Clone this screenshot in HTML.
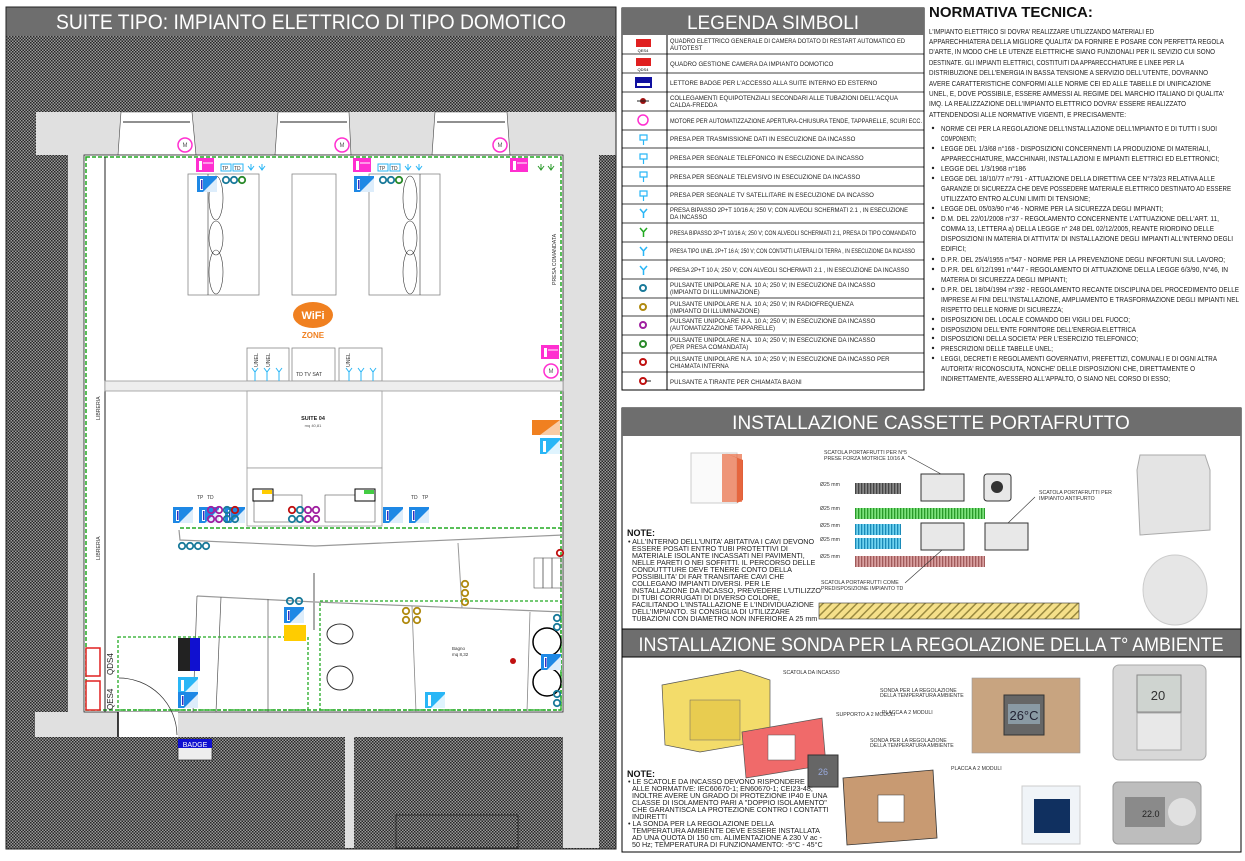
<!DOCTYPE html>
<html><head><meta charset="utf-8"><style>
html,body{margin:0;padding:0;background:#fff;}
svg{display:block;font-family:"Liberation Sans",sans-serif;}
.t{font-size:6.1px;fill:#222;}
.n{font-size:7.2px;fill:#222;}
.s{font-size:5.2px;fill:#333;}
</style></head><body>
<svg width="1245" height="861" viewBox="0 0 1245 861" xmlns="http://www.w3.org/2000/svg">
<defs>
<pattern id="h" width="3" height="3" patternUnits="userSpaceOnUse"><rect width="3" height="3" fill="#9a9a9a"/><rect width="1.5" height="1.5" fill="#262626"/><rect x="1.5" y="1.5" width="1.5" height="1.5" fill="#262626"/></pattern>
<pattern id="y" width="6" height="6" patternUnits="userSpaceOnUse" patternTransform="rotate(45)"><rect width="6" height="6" fill="#f5e08a"/><rect width="1.5" height="6" fill="#9a8a40"/></pattern>
<pattern id="pg" width="3" height="9" patternUnits="userSpaceOnUse"><rect width="3" height="9" fill="#888"/><rect width="1.3" height="9" fill="#444"/></pattern>
<pattern id="pgr" width="3" height="9" patternUnits="userSpaceOnUse"><rect width="3" height="9" fill="#7de27d"/><rect width="1.3" height="9" fill="#2a9a2a"/></pattern>
<pattern id="pb" width="3" height="9" patternUnits="userSpaceOnUse"><rect width="3" height="9" fill="#6fd3f0"/><rect width="1.3" height="9" fill="#1a8ab8"/></pattern>
<pattern id="pp" width="3" height="9" patternUnits="userSpaceOnUse"><rect width="3" height="9" fill="#d9a0a0"/><rect width="1.3" height="9" fill="#a05a5a"/></pattern>
<g id="sw"><rect width="20" height="16" fill="#1e88e5"/><path d="M6 16 L20 2 L20 16Z" fill="#fff" opacity=".85"/><rect x="3" y="3" width="3" height="11" fill="#fff"/><rect x="4" y="4" width="1.5" height="9" fill="#3030c0"/></g>
<g id="sc"><rect width="20" height="16" fill="#29b6f6"/><path d="M6 16 L20 2 L20 16Z" fill="#fff" opacity=".85"/><rect x="3" y="3" width="3" height="11" fill="#fff"/></g>
<g id="mg"><rect width="18" height="14" fill="#ff2fd0"/><rect x="3" y="3" width="3" height="9" fill="#fff"/><line x1="7" y1="5" x2="17" y2="5" stroke="#fff"/></g>
<g id="cb"><circle r="3.2" fill="none" stroke="#1a7a9a" stroke-width="1.8"/></g>
<g id="cp"><circle r="3.2" fill="none" stroke="#a020a0" stroke-width="1.8"/></g>
<g id="cr"><circle r="3.2" fill="none" stroke="#c01010" stroke-width="1.8"/></g>
<g id="cy"><circle r="3.2" fill="none" stroke="#b08a10" stroke-width="1.8"/></g>
<g id="mot"><circle r="7" fill="#fff" stroke="#ff2fd0" stroke-width="1.5"/><text x="0" y="2" font-size="6" text-anchor="middle" fill="#555">M</text></g>
</defs>

<!-- LEFT PANEL -->
<rect x="6" y="7" width="610" height="842" fill="url(#h)"/>
<rect x="6" y="7" width="610" height="29" fill="#6e6e6e"/>
<text x="311" y="29" font-size="21" fill="#fff" text-anchor="middle" textLength="510" lengthAdjust="spacingAndGlyphs">SUITE TIPO: IMPIANTO ELETTRICO DI TIPO DOMOTICO</text>
<rect x="6" y="112" width="610" height="43" fill="#e0e0e0"/>
<rect x="6" y="112" width="30" height="43" fill="url(#h)"/>
<rect x="68" y="155" width="16" height="582" fill="#e0e0e0"/>
<rect x="35" y="712" width="528" height="25" fill="#e0e0e0"/>
<rect x="563" y="112" width="36" height="625" fill="#e0e0e0"/>
<rect x="563" y="737" width="36" height="111" fill="#e0e0e0"/>
<g fill="#fff" stroke="#444" stroke-width=".6">
<path d="M121 112 L192 112 L196 155 L118 155Z"/><path d="M278 112 L349 112 L351 155 L275 155Z"/><path d="M435 112 L507 112 L510 155 L432 155Z"/>
</g>
<g stroke="#222" stroke-width="1"><line x1="123" y1="122" x2="190" y2="122"/><line x1="280" y1="122" x2="347" y2="122"/><line x1="437" y1="122" x2="505" y2="122"/></g>
<rect x="84" y="155" width="479" height="557" fill="#fff" stroke="#222" stroke-width=".8"/>
<rect x="86" y="157" width="475" height="553" fill="none" stroke="#22aa22" stroke-width="1.5" stroke-dasharray="4,2"/>
<line x1="105" y1="157" x2="105" y2="712" stroke="#222"/>
<text transform="translate(100,420) rotate(-90)" class="s">LIBRERIA</text>
<text transform="translate(100,560) rotate(-90)" class="s">LIBRERIA</text>
<text transform="translate(556,285) rotate(-90)" class="s">PRESA COMANDATA</text>
<g fill="#fff" stroke="#888" stroke-width=".8">
<rect x="188" y="174" width="71" height="121"/><rect x="292" y="174" width="44" height="121"/><rect x="369" y="174" width="71" height="121"/>
</g>
<g fill="none" stroke="#333" stroke-width=".6">
<line x1="208" y1="174" x2="208" y2="295"/><ellipse cx="216" cy="198" rx="7" ry="22"/><ellipse cx="216" cy="238" rx="7" ry="17"/><ellipse cx="216" cy="272" rx="7" ry="22"/>
<line x1="420" y1="174" x2="420" y2="295"/><ellipse cx="410" cy="198" rx="7" ry="22"/><ellipse cx="410" cy="238" rx="7" ry="17"/><ellipse cx="410" cy="272" rx="7" ry="22"/>
</g>
<use href="#mot" x="185" y="145"/><use href="#mot" x="342" y="145"/><use href="#mot" x="500" y="145"/>
<use href="#mg" x="196" y="158"/><use href="#mg" x="353" y="158"/><use href="#mg" x="510" y="158"/><use href="#mg" x="541" y="345"/>
<use href="#mot" x="551" y="371"/>
<g font-size="5" fill="#333"><rect x="221" y="164" width="10" height="7" fill="none" stroke="#29b6f6"/><text x="222" y="170">TP</text><rect x="233" y="164" width="10" height="7" fill="none" stroke="#29b6f6"/><text x="234" y="170">TD</text>
<rect x="378" y="164" width="10" height="7" fill="none" stroke="#29b6f6"/><text x="379" y="170">TP</text><rect x="390" y="164" width="10" height="7" fill="none" stroke="#29b6f6"/><text x="391" y="170">TD</text></g>
<g stroke="#29b6f6" fill="none"><path d="M248 166 l3 4 l3-4 M251 170 v-6 M259 166 l3 4 l3-4 M262 170 v-6 M405 166 l3 4 l3-4 M408 170 v-6 M416 166 l3 4 l3-4 M419 170 v-6"/></g>
<g stroke="#2a9a2a" fill="none"><path d="M538 166 l3 4 l3-4 M541 170 v-6 M548 166 l3 4 l3-4 M551 170 v-6"/></g>
<use href="#sw" x="197" y="176"/><use href="#sw" x="354" y="176"/>
<use href="#cb" x="226" y="180"/><use href="#cb" x="234" y="180"/><g transform="translate(242,180)"><circle r="3.2" fill="none" stroke="#2a8a2a" stroke-width="1.8"/></g>
<use href="#cb" x="383" y="180"/><use href="#cb" x="391" y="180"/><g transform="translate(399,180)"><circle r="3.2" fill="none" stroke="#2a8a2a" stroke-width="1.8"/></g>
<ellipse cx="313" cy="315" rx="20" ry="13" fill="#f08020"/>
<text x="313" y="319" font-size="11" font-weight="bold" fill="#fff" text-anchor="middle">WiFi</text>
<text x="313" y="338" font-size="8" font-weight="bold" fill="#f08020" text-anchor="middle">ZONE</text>
<g fill="#fff" stroke="#888" stroke-width=".8"><rect x="247" y="348" width="42" height="33"/><rect x="292" y="348" width="43" height="33"/><rect x="339" y="348" width="43" height="33"/></g>
<rect x="105" y="381" width="458" height="10" fill="#eee" stroke="#999" stroke-width=".8"/>
<g class="s" font-size="4.5"><text transform="translate(258,367) rotate(-90)">UNEL</text><text transform="translate(270,367) rotate(-90)">UNEL</text><text transform="translate(350,367) rotate(-90)">UNEL</text>
<text x="296" y="376">TD TV SAT</text></g>
<g stroke="#29b6f6" fill="none"><path d="M252 368 l3 4 l3-4 M255 372 v9 M264 368 l3 4 l3-4 M267 372 v9 M276 368 l3 4 l3-4 M279 372 v9 M346 368 l3 4 l3-4 M349 372 v9 M358 368 l3 4 l3-4 M361 372 v9 M370 368 l3 4 l3-4 M373 372 v9"/></g>
<rect x="247" y="391" width="135" height="77" fill="#fff" stroke="#999" stroke-width=".8"/>
<text x="313" y="420" font-size="5.5" font-weight="bold" text-anchor="middle" fill="#222">SUITE 04</text>
<text x="313" y="427" font-size="4" text-anchor="middle" fill="#555">mq 40,81</text>
<rect x="247" y="468" width="135" height="58" fill="#fff" stroke="#999" stroke-width=".8"/>
<rect x="254" y="495" width="48" height="27" fill="none" stroke="#555" stroke-width=".6"/><rect x="325" y="495" width="50" height="27" fill="none" stroke="#555" stroke-width=".6"/>
<rect x="532" y="420" width="28" height="15" fill="#f08020"/><path d="M540 435 L560 420 L560 435Z" fill="#fff" opacity=".6"/>
<use href="#sc" x="540" y="438"/>
<use href="#sw" x="173" y="507"/><use href="#sw" x="199" y="507"/><use href="#sw" x="225" y="507"/>
<use href="#sw" x="383" y="507"/><use href="#sw" x="409" y="507"/>
<rect x="253" y="489" width="20" height="12" fill="#fff" stroke="#000"/><rect x="262" y="490" width="10" height="4" fill="#fc0"/>
<rect x="355" y="489" width="20" height="12" fill="#fff" stroke="#000"/><rect x="364" y="490" width="10" height="4" fill="#4c4"/>
<g font-size="5" fill="#333"><text x="197" y="499">TP</text><text x="207" y="499">TD</text><text x="411" y="499">TD</text><text x="422" y="499">TP</text></g>
<use href="#cp" x="211" y="510"/><use href="#cp" x="219" y="510"/><use href="#cb" x="227" y="510"/><use href="#cr" x="235" y="510"/>
<use href="#cp" x="211" y="519"/><use href="#cp" x="219" y="519"/><use href="#cb" x="227" y="519"/><use href="#cb" x="235" y="519"/>
<use href="#cr" x="292" y="510"/><use href="#cb" x="300" y="510"/><use href="#cp" x="308" y="510"/><use href="#cp" x="316" y="510"/>
<use href="#cb" x="292" y="519"/><use href="#cb" x="300" y="519"/><use href="#cp" x="308" y="519"/><use href="#cp" x="316" y="519"/>
<line x1="180" y1="528" x2="563" y2="528" stroke="#22aa22" stroke-width="1.5" stroke-dasharray="4,2"/>
<path d="M179 530 L180 540 L315 546 L563 535" fill="none" stroke="#999" stroke-width="1.2"/>
<use href="#cb" x="182" y="546"/><use href="#cb" x="190" y="546"/><use href="#cb" x="198" y="546"/><use href="#cb" x="206" y="546"/>
<path d="M197 596 L315 602 L563 612" fill="none" stroke="#999" stroke-width="1.2"/>
<line x1="458" y1="543" x2="462" y2="608" stroke="#999"/>
<line x1="197" y1="596" x2="193" y2="712" stroke="#555" stroke-width=".7"/><line x1="221" y1="597" x2="216" y2="712" stroke="#555" stroke-width=".7"/><line x1="268" y1="599" x2="268" y2="712" stroke="#555" stroke-width=".7"/>
<line x1="314" y1="573" x2="314" y2="630" stroke="#aaa" stroke-width="2"/>
<line x1="412" y1="606" x2="416" y2="712" stroke="#888" stroke-width=".8"/><line x1="530" y1="612" x2="527" y2="712" stroke="#888" stroke-width=".8"/>
<rect x="118" y="637" width="190" height="73" fill="none" stroke="#22aa22" stroke-width="1.3" stroke-dasharray="3,2"/>
<rect x="320" y="601" width="241" height="109" fill="none" stroke="#22aa22" stroke-width="1.3" stroke-dasharray="3,2"/>
<rect x="534" y="558" width="9" height="30" fill="none" stroke="#555" stroke-width=".6"/><rect x="543" y="558" width="9" height="30" fill="none" stroke="#555" stroke-width=".6"/><rect x="552" y="558" width="9" height="30" fill="none" stroke="#555" stroke-width=".6"/>
<use href="#cr" x="560" y="553"/>
<use href="#cy" x="465" y="584"/><use href="#cy" x="465" y="593"/><use href="#cy" x="465" y="602"/>
<use href="#cy" x="406" y="611"/><use href="#cy" x="417" y="611"/><use href="#cy" x="406" y="620"/><use href="#cy" x="417" y="620"/>
<use href="#cb" x="290" y="601"/><use href="#cb" x="299" y="601"/>
<use href="#sw" x="284" y="607"/>
<rect x="284" y="625" width="22" height="16" fill="#fc0"/>
<ellipse cx="340" cy="634" rx="13" ry="10" fill="#fff" stroke="#333"/><ellipse cx="340" cy="678" rx="13" ry="12" fill="#fff" stroke="#333"/>
<text x="452" y="650" font-size="4.5" fill="#333">Bagno</text><text x="452" y="656" font-size="4.5" fill="#333">mq 8,32</text>
<circle cx="513" cy="661" r="3" fill="#c01010"/>
<circle cx="547" cy="642" r="14" fill="#fff" stroke="#000" stroke-width="1.5"/><circle cx="547" cy="682" r="14" fill="#fff" stroke="#000" stroke-width="1.5"/>
<use href="#cb" x="557" y="618"/><use href="#cb" x="557" y="627"/><use href="#cb" x="557" y="694"/><use href="#cb" x="557" y="703"/>
<use href="#sw" x="541" y="654"/><use href="#sc" x="425" y="692"/>
<rect x="86" y="648" width="14" height="28" fill="#fff" stroke="#e02020" stroke-width="1.5"/><rect x="86" y="681" width="14" height="29" fill="#fff" stroke="#e02020" stroke-width="1.5"/>
<text transform="translate(113,675) rotate(-90)" font-size="8" fill="#222">QDS4</text><text transform="translate(113,710) rotate(-90)" font-size="8" fill="#222">QES4</text>
<rect x="118" y="712" width="60" height="25" fill="#fff"/><line x1="118" y1="712" x2="118" y2="737" stroke="#000" stroke-width="1.5"/>
<path d="M119 678 A58 58 0 0 1 177 735" fill="none" stroke="#333" stroke-width=".7"/>
<rect x="178" y="638" width="22" height="33" fill="#222"/><rect x="190" y="638" width="10" height="33" fill="#1010d0"/>
<use href="#sc" x="178" y="677"/><use href="#sw" x="178" y="692"/>
<rect x="178" y="739" width="34" height="21" fill="#eee" stroke="#222" stroke-width=".7"/><rect x="178" y="739" width="34" height="9" fill="#1010d0"/>
<text x="195" y="747" font-size="7" fill="#fff" text-anchor="middle">BADGE</text>
<rect x="345" y="737" width="9" height="111" fill="#e0e0e0"/>
<rect x="396" y="815" width="122" height="33" fill="none" stroke="#222" stroke-width=".8"/>
<rect x="6" y="7" width="610" height="842" fill="none" stroke="#222" stroke-width="1"/>

<!-- LEGEND -->
<rect x="622" y="8" width="302" height="382" fill="#fff" stroke="#000" stroke-width="1"/>
<rect x="622" y="8" width="302" height="27" fill="#6e6e6e"/>
<text x="773" y="29" font-size="19" fill="#fff" text-anchor="middle">LEGENDA SIMBOLI</text>
<line x1="667" y1="35" x2="667" y2="390" stroke="#000"/>
<g stroke="#000" stroke-width=".8">
<line x1="622" y1="54" x2="924" y2="54"/><line x1="622" y1="73" x2="924" y2="73"/><line x1="622" y1="92" x2="924" y2="92"/><line x1="622" y1="111" x2="924" y2="111"/><line x1="622" y1="130" x2="924" y2="130"/><line x1="622" y1="148" x2="924" y2="148"/><line x1="622" y1="167" x2="924" y2="167"/><line x1="622" y1="186" x2="924" y2="186"/><line x1="622" y1="204" x2="924" y2="204"/><line x1="622" y1="223" x2="924" y2="223"/><line x1="622" y1="242" x2="924" y2="242"/><line x1="622" y1="260" x2="924" y2="260"/><line x1="622" y1="279" x2="924" y2="279"/><line x1="622" y1="298" x2="924" y2="298"/><line x1="622" y1="316" x2="924" y2="316"/><line x1="622" y1="335" x2="924" y2="335"/><line x1="622" y1="353" x2="924" y2="353"/><line x1="622" y1="372" x2="924" y2="372"/>
</g>
<g>
<rect x="636" y="39" width="15" height="8" fill="#e02020"/><text x="643" y="52" font-size="4" text-anchor="middle">QES4</text>
<rect x="636" y="58" width="15" height="8" fill="#e02020"/><text x="643" y="71" font-size="4" text-anchor="middle">QDS4</text>
<rect x="635" y="77" width="17" height="11" fill="#1010a0"/><rect x="637" y="83" width="13" height="3" fill="#fff"/>
<circle cx="643" cy="101" r="3" fill="#a01010"/><line x1="637" y1="101" x2="649" y2="101" stroke="#222"/>
<circle cx="643" cy="120" r="5" fill="none" stroke="#ff2fd0" stroke-width="1.5"/>
<path d="M640 135 h7 v5 h-7z M643.5 140 v5" fill="none" stroke="#29b6f6" stroke-width="1.2"/>
<path d="M640 154 h7 v5 h-7z M643.5 159 v5" fill="none" stroke="#29b6f6" stroke-width="1.2"/>
<path d="M640 172 h7 v5 h-7z M643.5 177 v5" fill="none" stroke="#29b6f6" stroke-width="1.2"/>
<path d="M640 191 h7 v5 h-7z M643.5 196 v5" fill="none" stroke="#29b6f6" stroke-width="1.2"/>
<path d="M640 209 l3.5 4 l3.5-4 M643.5 213 v5" fill="none" stroke="#29b6f6" stroke-width="1.5"/>
<path d="M640 228 l3.5 4 l3.5-4 M643.5 232 v5" fill="none" stroke="#22aa22" stroke-width="1.5"/>
<path d="M640 247 l3.5 4 l3.5-4 M643.5 251 v5" fill="none" stroke="#29b6f6" stroke-width="1.5"/>
<path d="M640 266 l3.5 4 l3.5-4 M643.5 270 v5" fill="none" stroke="#29b6f6" stroke-width="1.5"/>
<circle cx="643" cy="288" r="3" fill="none" stroke="#1a7a9a" stroke-width="2"/>
<circle cx="643" cy="307" r="3" fill="none" stroke="#b08a10" stroke-width="2"/>
<circle cx="643" cy="325" r="3" fill="none" stroke="#a020a0" stroke-width="2"/>
<circle cx="643" cy="344" r="3" fill="none" stroke="#2a8a2a" stroke-width="2"/>
<circle cx="643" cy="362" r="3" fill="none" stroke="#c01010" stroke-width="2"/>
<circle cx="643" cy="381" r="3" fill="none" stroke="#c01010" stroke-width="2"/><line x1="646" y1="381" x2="651" y2="381" stroke="#222"/>
</g>
<g class="t">
<text x="670" y="43" textLength="235" lengthAdjust="spacingAndGlyphs">QUADRO ELETTRICO GENERALE DI CAMERA DOTATO DI RESTART AUTOMATICO ED</text><text x="670" y="50">AUTOTEST</text>
<text x="670" y="66">QUADRO GESTIONE CAMERA DA IMPIANTO DOMOTICO</text>
<text x="670" y="85">LETTORE BADGE PER L'ACCESSO ALLA SUITE INTERNO ED ESTERNO</text>
<text x="670" y="100">COLLEGAMENTI EQUIPOTENZIALI SECONDARI ALLE TUBAZIONI DELL'ACQUA</text><text x="670" y="107">CALDA-FREDDA</text>
<text x="670" y="123" textLength="252" lengthAdjust="spacingAndGlyphs">MOTORE PER AUTOMATIZZAZIONE APERTURA-CHIUSURA TENDE, TAPPARELLE, SCURI ECC.</text>
<text x="670" y="141">PRESA PER TRASMISSIONE DATI IN ESECUZIONE DA INCASSO</text>
<text x="670" y="160">PRESA PER SEGNALE TELEFONICO IN ESECUZIONE DA INCASSO</text>
<text x="670" y="179">PRESA PER SEGNALE TELEVISIVO IN ESECUZIONE DA INCASSO</text>
<text x="670" y="197">PRESA PER SEGNALE TV SATELLITARE IN ESECUZIONE DA INCASSO</text>
<text x="670" y="212" textLength="238" lengthAdjust="spacingAndGlyphs">PRESA BIPASSO 2P+T 10/16 A; 250 V; CON ALVEOLI SCHERMATI 2.1 , IN ESECUZIONE</text><text x="670" y="219">DA INCASSO</text>
<text x="670" y="235" textLength="246" lengthAdjust="spacingAndGlyphs">PRESA BIPASSO 2P+T 10/16 A; 250 V; CON ALVEOLI SCHERMATI 2.1, PRESA DI TIPO COMANDATO</text>
<text x="670" y="253" textLength="245" lengthAdjust="spacingAndGlyphs">PRESA TIPO UNEL 2P+T 16 A; 250 V; CON CONTATTI LATERALI DI TERRA , IN ESECUZIONE DA INCASSO</text>
<text x="670" y="272" textLength="239" lengthAdjust="spacingAndGlyphs">PRESA 2P+T 10 A; 250 V; CON ALVEOLI SCHERMATI 2.1 , IN ESECUZIONE DA INCASSO</text>
<text x="670" y="287">PULSANTE UNIPOLARE N.A. 10 A; 250 V; IN ESECUZIONE DA INCASSO</text><text x="670" y="294">(IMPIANTO DI ILLUMINAZIONE)</text>
<text x="670" y="306">PULSANTE UNIPOLARE N.A. 10 A; 250 V; IN RADIOFREQUENZA</text><text x="670" y="313">(IMPIANTO DI ILLUMINAZIONE)</text>
<text x="670" y="323">PULSANTE UNIPOLARE N.A. 10 A; 250 V; IN ESECUZIONE DA INCASSO</text><text x="670" y="330">(AUTOMATIZZAZIONE TAPPARELLE)</text>
<text x="670" y="342">PULSANTE UNIPOLARE N.A. 10 A; 250 V; IN ESECUZIONE DA INCASSO</text><text x="670" y="349">(PER PRESA COMANDATA)</text>
<text x="670" y="361">PULSANTE UNIPOLARE N.A. 10 A; 250 V; IN ESECUZIONE DA INCASSO PER</text><text x="670" y="368">CHIAMATA INTERNA</text>
<text x="670" y="384">PULSANTE A TIRANTE PER CHIAMATA BAGNI</text>
</g>

<!-- NORMATIVA -->
<text x="929" y="17" font-size="15" font-weight="bold" fill="#111">NORMATIVA TECNICA:</text>
<g class="n">
<text x="929" y="34" textLength="225" lengthAdjust="spacingAndGlyphs">L'IMPIANTO ELETTRICO SI DOVRA' REALIZZARE UTILIZZANDO MATERIALI ED</text>
<text x="929" y="44" textLength="295" lengthAdjust="spacingAndGlyphs">APPARECHHIATERA DELLA MIGLIORE QUALITA' DA FORNIRE E POSARE CON PERFETTA REGOLA</text>
<text x="929" y="54" textLength="286" lengthAdjust="spacingAndGlyphs">D'ARTE, IN MODO CHE LE UTENZE ELETTRICHE SIANO FUNZIONALI PER IL SEVIZIO CUI SONO</text>
<text x="929" y="65" textLength="255" lengthAdjust="spacingAndGlyphs">DESTINATE. GLI IMPIANTI ELETTRICI, COSTITUITI DA APPARECCHIATURE E LINEE PER LA</text>
<text x="929" y="75" textLength="279" lengthAdjust="spacingAndGlyphs">DISTRIBUZIONE DELL'ENERGIA IN BASSA TENSIONE A SERVIZIO DELL'UTENTE, DOVRANNO</text>
<text x="929" y="86" textLength="282" lengthAdjust="spacingAndGlyphs">AVERE CARATTERISTICHE CONFORMI ALLE NORME CEI ED ALLE TABELLE DI UNIFICAZIONE</text>
<text x="929" y="96" textLength="295" lengthAdjust="spacingAndGlyphs">UNEL, E, DOVE POSSIBILE, ESSERE AMMESSI AL REGIME DEL MARCHIO ITALIANO DI QUALITA'</text>
<text x="929" y="106" textLength="257" lengthAdjust="spacingAndGlyphs">IMQ. LA REALIZZAZIONE DELL'IMPIANTO ELETTRICO DOVRA' ESSERE REALIZZATO</text>
<text x="929" y="117" textLength="197" lengthAdjust="spacingAndGlyphs">ATTENDENDOSI ALLE NORMATIVE VIGENTI, E PRECISAMENTE:</text>
</g>
<g class="n" font-size="6.8">
<circle cx="933" cy="128" r="1.2"/><text x="941" y="131" textLength="276" lengthAdjust="spacingAndGlyphs">NORME CEI PER LA REGOLAZIONE DELL'INSTALLAZIONE DELL'IMPIANTO E DI TUTTI I SUOI</text><text x="941" y="141" textLength="35" lengthAdjust="spacingAndGlyphs">COMPONENTI;</text>
<circle cx="933" cy="148" r="1.2"/><text x="941" y="151" textLength="269" lengthAdjust="spacingAndGlyphs">LEGGE DEL 1/3/68 n°168 - DISPOSIZIONI CONCERNENTI LA PRODUZIONE DI MATERIALI,</text><text x="941" y="161" textLength="278" lengthAdjust="spacingAndGlyphs">APPARECCHIATURE, MACCHINARI, INSTALLAZIONI E IMPIANTI ELETTRICI ED ELETTRONICI;</text>
<circle cx="933" cy="168" r="1.2"/><text x="941" y="171" textLength="85" lengthAdjust="spacingAndGlyphs">LEGGE DEL 1/3/1968 n°186</text>
<circle cx="933" cy="178" r="1.2"/><text x="941" y="181" textLength="274" lengthAdjust="spacingAndGlyphs">LEGGE DEL 18/10/77 n°791 - ATTUAZIONE DELLA DIRETTIVA CEE N°73/23 RELATIVA ALLE</text><text x="941" y="191" textLength="290" lengthAdjust="spacingAndGlyphs">GARANZIE DI SICUREZZA CHE DEVE POSSEDERE MATERIALE ELETTRICO DESTINATO AD ESSERE</text><text x="941" y="201" textLength="149" lengthAdjust="spacingAndGlyphs">UTILIZZATO ENTRO ALCUNI LIMITI DI TENSIONE;</text>
<circle cx="933" cy="208" r="1.2"/><text x="941" y="211" textLength="222" lengthAdjust="spacingAndGlyphs">LEGGE DEL 05/03/90 n°46 - NORME PER LA SICUREZZA DEGLI IMPIANTI;</text>
<circle cx="933" cy="218" r="1.2"/><text x="941" y="221" textLength="278" lengthAdjust="spacingAndGlyphs">D.M. DEL 22/01/2008 n°37 - REGOLAMENTO CONCERNENTE L'ATTUAZIONE DELL'ART. 11,</text><text x="941" y="231" textLength="273" lengthAdjust="spacingAndGlyphs">COMMA 13, LETTERA a) DELLA LEGGE n° 248 DEL 02/12/2005, REANTE RIORDINO DELLE</text><text x="941" y="241" textLength="292" lengthAdjust="spacingAndGlyphs">DISPOSIZIONI IN MATERIA DI ATTIVITA' DI INSTALLAZIONE DEGLI IMPIANTI ALL'INTERNO DEGLI</text><text x="941" y="251" textLength="25" lengthAdjust="spacingAndGlyphs">EDIFICI;</text>
<circle cx="933" cy="259" r="1.2"/><text x="941" y="262" textLength="284" lengthAdjust="spacingAndGlyphs">D.P.R. DEL 25/4/1955 n°547 - NORME PER LA PREVENZIONE DEGLI INFORTUNI SUL LAVORO;</text>
<circle cx="933" cy="269" r="1.2"/><text x="941" y="272" textLength="287" lengthAdjust="spacingAndGlyphs">D.P.R. DEL 6/12/1991 n°447 - REGOLAMENTO DI ATTUAZIONE DELLA LEGGE 6/3/90, N°46, IN</text><text x="941" y="282" textLength="126" lengthAdjust="spacingAndGlyphs">MATERIA DI SICUREZZA DEGLI IMPIANTI;</text>
<circle cx="933" cy="289" r="1.2"/><text x="941" y="292" textLength="298" lengthAdjust="spacingAndGlyphs">D.P.R. DEL 18/04/1994 n°392 - REGOLAMENTO RECANTE DISCIPLINA DEL PROCEDIMENTO DELLE</text><text x="941" y="302" textLength="298" lengthAdjust="spacingAndGlyphs">IMPRESE AI FINI DELL'INSTALLAZIONE, AMPLIAMENTO E TRASFORMAZIONE DEGLI IMPIANTI NEL</text><text x="941" y="312" textLength="122" lengthAdjust="spacingAndGlyphs">RISPETTO DELLE NORME DI SICUREZZA;</text>
<circle cx="933" cy="319" r="1.2"/><text x="941" y="322" textLength="189" lengthAdjust="spacingAndGlyphs">DISPOSIZIONI DEL LOCALE COMANDO DEI VIGILI DEL FUOCO;</text>
<circle cx="933" cy="329" r="1.2"/><text x="941" y="332" textLength="195" lengthAdjust="spacingAndGlyphs">DISPOSIZIONI DELL'ENTE FORNITORE DELL'ENERGIA ELETTRICA</text>
<circle cx="933" cy="338" r="1.2"/><text x="941" y="341" textLength="197" lengthAdjust="spacingAndGlyphs">DISPOSIZIONI DELLA SOCIETA' PER L'ESERCIZIO TELEFONICO;</text>
<circle cx="933" cy="348" r="1.2"/><text x="941" y="351" textLength="112" lengthAdjust="spacingAndGlyphs">PRESCRIZIONI DELLE TABELLE UNEL;</text>
<circle cx="933" cy="358" r="1.2"/><text x="941" y="361" textLength="276" lengthAdjust="spacingAndGlyphs">LEGGI, DECRETI E REGOLAMENTI GOVERNATIVI, PREFETTIZI, COMUNALI E DI OGNI ALTRA</text><text x="941" y="371" textLength="254" lengthAdjust="spacingAndGlyphs">AUTORITA' RICONOSCIUTA, NONCHE' DELLE DISPOSIZIONI CHE, DIRETTAMENTE O</text><text x="941" y="381" textLength="229" lengthAdjust="spacingAndGlyphs">INDIRETTAMENTE, AVESSERO ALL'APPALTO, O SIANO NEL CORSO DI ESSO;</text>
</g>

<!-- CASSETTE -->
<rect x="622" y="408" width="619" height="444" fill="#fff" stroke="#000" stroke-width="1"/>
<rect x="622" y="408" width="619" height="28" fill="#6e6e6e"/>
<text x="931" y="429" font-size="19" fill="#fff" text-anchor="middle">INSTALLAZIONE CASSETTE PORTAFRUTTO</text>
<rect x="691" y="453" width="46" height="50" fill="#fafafa" stroke="#ccc"/><path d="M725 453 L743 460 L743 500 L737 503 L737 458Z" fill="#e0603a"/><rect x="722" y="454" width="20" height="48" fill="#e86a40" opacity=".7"/>
<g class="s" font-size="4.5"><text x="824" y="454">SCATOLA PORTAFRUTTI PER N°5</text><text x="824" y="460">PRESE FORZA MOTRICE 10/16 A</text>
<text x="1039" y="494">SCATOLA PORTAFRUTTI PER</text><text x="1039" y="500">IMPIANTO ANTIFURTO</text>
<text x="821" y="584">SCATOLA PORTAFRUTTI COME</text><text x="821" y="590">PREDISPOSIZIONE IMPIANTO TD</text>
<text x="820" y="486">Ø25 mm</text><text x="820" y="510">Ø25 mm</text><text x="820" y="527">Ø25 mm</text><text x="820" y="541">Ø25 mm</text><text x="820" y="558">Ø25 mm</text></g>
<rect x="855" y="483" width="46" height="11" fill="url(#pg)"/>
<rect x="855" y="508" width="130" height="11" fill="url(#pgr)"/>
<rect x="855" y="524" width="46" height="11" fill="url(#pb)"/><rect x="855" y="538" width="46" height="11" fill="url(#pb)"/>
<rect x="855" y="556" width="130" height="11" fill="url(#pp)"/>
<g fill="#e8e8e8" stroke="#333" stroke-width="1"><rect x="921" y="474" width="43" height="27"/><rect x="921" y="523" width="43" height="27"/><rect x="985" y="523" width="43" height="27"/><rect x="984" y="474" width="27" height="27" rx="3"/></g>
<circle cx="997" cy="487" r="6" fill="#333"/>
<line x1="908" y1="456" x2="941" y2="474" stroke="#333" stroke-width=".6"/><line x1="1035" y1="497" x2="1008" y2="523" stroke="#333" stroke-width=".6"/><line x1="905" y1="583" x2="942" y2="550" stroke="#333" stroke-width=".6"/>
<rect x="819" y="603" width="260" height="16" fill="url(#y)" stroke="#333" stroke-width=".6"/>
<path d="M1140 455 L1205 455 L1210 470 L1210 530 L1140 535 L1137 470Z" fill="#e4e4e4" stroke="#aaa"/>
<ellipse cx="1175" cy="590" rx="32" ry="35" fill="#e6e6e6" stroke="#ccc"/>
<text x="627" y="536" font-size="9" font-weight="bold" fill="#111">NOTE:</text>
<g class="n" font-size="6.2"><text x="628" y="544">• ALL'INTERNO DELL'UNITA' ABITATIVA I CAVI DEVONO</text><text x="632" y="551">ESSERE POSATI ENTRO TUBI PROTETTIVI DI</text><text x="632" y="558">MATERIALE ISOLANTE INCASSATI NEI PAVIMENTI,</text><text x="632" y="565">NELLE PARETI O NEI SOFFITTI. IL PERCORSO DELLE</text><text x="632" y="572">CONDUTTTURE DEVE TENERE CONTO DELLA</text><text x="632" y="579">POSSIBILITA' DI FAR TRANSITARE CAVI CHE</text><text x="632" y="586">COLLEGANO IMPIANTI DIVERSI. PER LE</text><text x="632" y="593">INSTALLAZIONE DA INCASSO, PREVEDERE L'UTILIZZO</text><text x="632" y="600">DI TUBI CORRUGATI DI DIVERSO COLORE,</text><text x="632" y="607">FACILITANDO L'INSTALLAZIONE E L'INDIVIDUAZIONE</text><text x="632" y="614">DELL'IMPIANTO. SI CONSIGLIA DI UTILIZZARE</text><text x="632" y="621">TUBAZIONI CON DIAMETRO NON INFERIORE A 25 mm</text></g>

<!-- SONDA -->
<rect x="622" y="629" width="619" height="28" fill="#6e6e6e" stroke="#000" stroke-width="1"/>
<text x="931" y="651" font-size="19.5" fill="#fff" text-anchor="middle" textLength="585" lengthAdjust="spacingAndGlyphs">INSTALLAZIONE SONDA PER LA REGOLAZIONE DELLA T° AMBIENTE</text>
<path d="M662 685 L740 670 L770 680 L770 740 L700 752 L665 745Z" fill="#f3dc6a" stroke="#555" stroke-width=".7"/>
<rect x="690" y="700" width="50" height="40" fill="#e8cc50" stroke="#666" stroke-width=".5"/>
<path d="M742 732 L822 718 L826 765 L746 778Z" fill="#f06a6a" stroke="#555" stroke-width=".7"/><rect x="768" y="735" width="27" height="25" fill="#fff" stroke="#555" stroke-width=".5"/>
<rect x="808" y="755" width="30" height="32" fill="#666" stroke="#333"/><text x="823" y="775" font-size="9" fill="#9ad" text-anchor="middle">26</text>
<path d="M843 778 L933 770 L937 838 L847 845Z" fill="#c89a72" stroke="#333" stroke-width=".8"/><rect x="878" y="795" width="26" height="27" fill="#fff" stroke="#333" stroke-width=".5"/>
<rect x="972" y="678" width="108" height="75" fill="#c8a480" stroke="#999" stroke-width=".6"/>
<rect x="1004" y="695" width="40" height="40" fill="#666" stroke="#333"/><rect x="1008" y="704" width="32" height="20" fill="#8a9aa4"/><text x="1024" y="720" font-size="13" fill="#223" text-anchor="middle">26°C</text>
<rect x="1113" y="665" width="93" height="95" rx="6" fill="#d8d8d8" stroke="#aaa"/><rect x="1137" y="675" width="44" height="37" fill="#cfd4d0" stroke="#888"/><text x="1158" y="700" font-size="13" fill="#333" text-anchor="middle">20</text><rect x="1137" y="713" width="44" height="37" fill="#e8e8e8" stroke="#aaa"/>
<rect x="1022" y="786" width="58" height="58" fill="#f0f4f8" stroke="#ccc"/><rect x="1034" y="799" width="36" height="34" fill="#103060"/>
<rect x="1113" y="782" width="88" height="62" rx="5" fill="#bdbdbd" stroke="#999"/><rect x="1125" y="797" width="40" height="30" fill="#8a8a8a"/><circle cx="1182" cy="812" r="14" fill="#e0e0e0"/><text x="1142" y="817" font-size="9" fill="#222">22.0</text>
<g class="s" font-size="4.5"><text x="783" y="674">SCATOLA DA INCASSO</text><text x="836" y="716">SUPPORTO A 2 MODULI</text><text x="882" y="714">PLACCA A 2 MODULI</text>
<text x="880" y="692">SONDA PER LA REGOLAZIONE</text><text x="880" y="697">DELLA TEMPERATURA AMBIENTE</text>
<text x="870" y="742">SONDA PER LA REGOLAZIONE</text><text x="870" y="747">DELLA TEMPERATURA AMBIENTE</text><text x="951" y="770">PLACCA A 2 MODULI</text></g>
<text x="627" y="777" font-size="9" font-weight="bold" fill="#111">NOTE:</text>
<g class="n" font-size="6"><text x="628" y="784">• LE SCATOLE DA INCASSO DEVONO RISPONDERE</text><text x="632" y="791">ALLE NORMATIVE: IEC60670-1; EN60670-1; CEI23-48;</text><text x="632" y="798">INOLTRE AVERE UN GRADO DI PROTEZIONE IP40 E UNA</text><text x="632" y="805">CLASSE DI ISOLAMENTO PARI A "DOPPIO ISOLAMENTO"</text><text x="632" y="812">CHE GARANTISCA LA PROTEZIONE CONTRO I CONTATTI</text><text x="632" y="819">INDIRETTI</text><text x="628" y="826">• LA SONDA PER LA REGOLAZIONE DELLA</text><text x="632" y="833">TEMPERATURA AMBIENTE DEVE ESSERE INSTALLATA</text><text x="632" y="840">AD UNA QUOTA DI 150 cm. ALIMENTAZIONE A 230 V ac -</text><text x="632" y="847">50 Hz; TEMPERATURA DI FUNZIONAMENTO: -5°C - 45°C</text></g>
</svg>
</body></html>
